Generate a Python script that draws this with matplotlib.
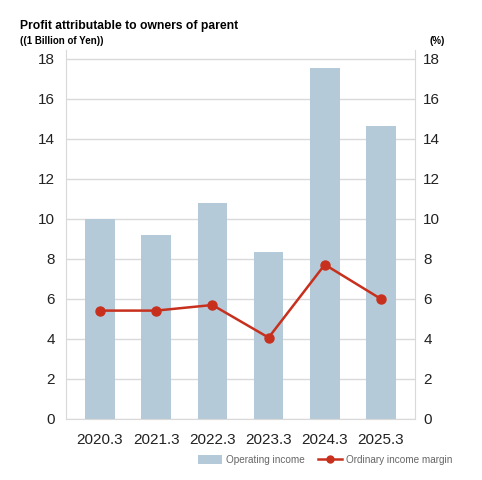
import numpy as np
import matplotlib.pyplot as plt
from matplotlib.patches import Patch
from matplotlib.lines import Line2D

plt.rcParams['font.family'] = ['Liberation Sans', 'DejaVu Sans']

# data
years = ["2020.3", "2021.3", "2022.3", "2023.3", "2024.3", "2025.3"]
operating_income = [10.0, 9.2, 10.8, 8.35, 17.55, 14.65]
income_margin = [5.42, 5.42, 5.7, 4.07, 7.72, 6.0]
ticks = [0, 2, 4, 6, 8, 10, 12, 14, 16, 18]

bar_color = '#b5cad8'
line_color = '#c8301e'
grid_color = '#d9d9d9'

fig = plt.figure(figsize=(4.82, 4.8), dpi=100)
ax = fig.add_axes([66 / 482, 1 - 419 / 480, 349 / 482, 369 / 480])
x = np.arange(len(years))

ax.bar(x, operating_income, width=0.53, color=bar_color, zorder=2)
ax.set_xlim(-0.605, 5.605)
ax.set_ylim(0, 18.45)
ax.set_yticks(ticks)
ax.set_xticks(x)
ax.set_xticklabels(years)
ax.grid(axis='y', color=grid_color, linewidth=1, zorder=0)
ax.tick_params(length=0, labelsize=11, colors='#222222', pad=8)
ax.tick_params(axis='x', pad=10)
for side in ['left', 'right', 'bottom']:
    ax.spines[side].set_color(grid_color)
ax.spines['top'].set_visible(False)

ax2 = ax.twinx()
ax2.plot(x, income_margin, color=line_color, linewidth=1.8, marker='o',
         markersize=6.5, zorder=3)
ax2.set_ylim(0, 18.45)
ax2.set_yticks(ticks)
ax2.tick_params(length=0, labelsize=11, colors='#222222', pad=6)
for side in ['left', 'right', 'bottom', 'top']:
    ax2.spines[side].set_visible(False)

fig.text(20 / 482, 1 - 26 / 480, "Profit attributable to owners of parent",
         fontsize=8.7, fontweight='bold', va='center', ha='left')
fig.text(20 / 482, 1 - 41 / 480, "((1 Billion of Yen))",
         fontsize=7, fontweight='bold', va='center', ha='left')
fig.text(445 / 482, 1 - 41 / 480, "(%)",
         fontsize=7, fontweight='bold', va='center', ha='right')

handles = [Patch(facecolor=bar_color, edgecolor='none'),
           Line2D([0], [0], color=line_color, linewidth=1.8, marker='o', markersize=5)]
fig.legend(handles, ["Operating income", "Ordinary income margin"],
           ncol=2, loc='center', bbox_to_anchor=(325 / 482, 1 - 460 / 480),
           frameon=False, fontsize=7.2, labelcolor='#666666',
           handlelength=2.4, handleheight=0.9, columnspacing=1.3, handletextpad=0.4)

fig.savefig('out.png', dpi=100)
